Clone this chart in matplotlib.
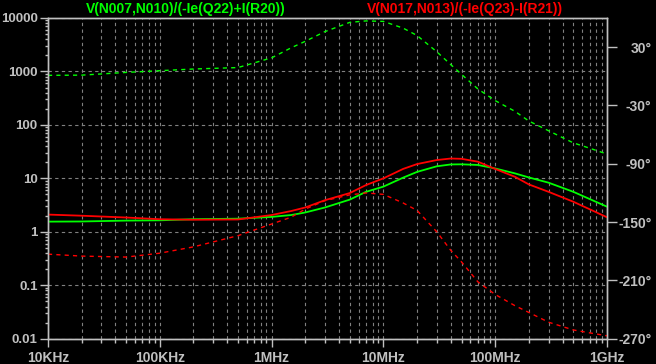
import matplotlib
matplotlib.use("Agg")
import matplotlib.pyplot as plt
from matplotlib.ticker import FixedLocator, NullFormatter

# frequency points (Hz) shared by all four traces
FREQ = [1e4, 2e4, 5e4, 1e5, 2e5, 5e5, 1e6, 1.5e6, 2e6, 3e6, 5e6, 7e6, 1e7,
        1.5e7, 2e7, 3e7, 4e7, 5e7, 7e7, 1e8, 1.5e8, 2e8, 3e8, 5e8, 7e8, 1e9]

# V(N007,N010)/(-Ie(Q22)+I(R20)) : magnitude and phase (deg)
MAG_Q22 = [1.55, 1.56, 1.62, 1.64, 1.72, 1.76, 1.9, 2.06, 2.3, 2.85, 4.0,
           5.6, 7.0, 10.3, 13.2, 16.8, 18.2, 18.3, 17.8, 15.3, 12.4, 10.4,
           8.3, 5.6, 4.1, 2.95]
PHASE_Q22 = [1.0, 1.2, 4.0, 5.8, 7.5, 9.0, 19.0, 29.4, 36.0, 46.0, 55.5,
             57.0, 56.5, 49.6, 42.0, 25.3, 12.1, 2.0, -13.0, -25.0, -36.0,
             -46.0, -56.0, -68.5, -74.0, -80.0]

# V(N017,N013)/(-Ie(Q23)-I(R21)) : magnitude and phase (deg)
MAG_Q23 = [2.1, 2.0, 1.85, 1.72, 1.68, 1.70, 2.06, 2.45, 2.85, 3.9, 5.3,
           7.5, 10.0, 15.0, 18.5, 22.0, 23.5, 23.2, 20.5, 15.0, 10.7, 7.7,
           5.6, 3.65, 2.64, 1.87]
PHASE_Q23 = [-183.0, -185.0, -186.0, -182.0, -175.5, -164.0, -152.0,
             -144.9, -136.6, -128.0, -122.0, -120.0, -121.5, -130.3, -138.0,
             -160.0, -179.0, -191.0, -211.5, -224.5, -236.0, -243.0, -253.0,
             -261.0, -264.0, -267.0]

X_TICKS = [1e4, 1e5, 1e6, 1e7, 1e8, 1e9]
X_LABELS = ["10KHz", "100KHz", "1MHz", "10MHz", "100MHz", "1GHz"]
Y_TICKS = [0.01, 0.1, 1, 10, 100, 1000, 10000]
Y_LABELS = ["0.01", "0.1", "1", "10", "100", "1000", "10000"]
P_TICKS = [30, -30, -90, -150, -210, -270]
P_LABELS = ["30°", "-30°", "-90°", "-150°", "-210°", "-270°"]

GREEN = "#00ff00"
RED = "#ff0000"
AXIS = "#c0c0c0"
GRID = "#808080"

plt.rcParams.update({"font.family": ["Liberation Sans", "DejaVu Sans"],
                     "font.weight": "bold"})

fig = plt.figure(figsize=(6.56, 3.64), dpi=100, facecolor="black")
ax = fig.add_axes([48 / 656, 25.3 / 364, 559 / 656, 320.7 / 364])
ax.set_facecolor("black")
ax.set_xscale("log")
ax.set_yscale("log")
ax.set_xlim(1e4, 1e9)
ax.set_ylim(0.01, 10000)

# grid: every minor decade vertically, decades horizontally
minor_x = [m * 10 ** e for e in range(4, 9) for m in range(2, 10)]
minor_y = [m * 10.0 ** e for e in range(-2, 4) for m in range(2, 10)]
ax.xaxis.set_major_locator(FixedLocator(X_TICKS))
ax.xaxis.set_minor_locator(FixedLocator(minor_x))
ax.xaxis.set_minor_formatter(NullFormatter())
ax.set_xticklabels(X_LABELS)
ax.yaxis.set_major_locator(FixedLocator(Y_TICKS))
ax.yaxis.set_minor_locator(FixedLocator(minor_y))
ax.yaxis.set_minor_formatter(NullFormatter())
ax.set_yticklabels(Y_LABELS)
ax.grid(True, which="both", axis="x", color=GRID, ls=(0, (3, 3)), lw=0.8)
ax.grid(True, which="major", axis="y", color=GRID, ls=(0, (3, 3)), lw=0.8)

ax.tick_params(axis="both", which="major", colors=AXIS, labelsize=10,
               length=6, width=1, direction="out")
ax.tick_params(axis="both", which="minor", colors=AXIS, length=3, width=1,
               direction="out")
ax.tick_params(axis="x", which="major", pad=3)
ax.tick_params(axis="y", which="major", pad=1.5, labelsize=9.5)
ax.tick_params(axis="y", which="minor", length=2)
for sp in ax.spines.values():
    sp.set_color(AXIS)
    sp.set_linewidth(1)

ax.plot(FREQ, MAG_Q22, color=GREEN, lw=1.3, zorder=3)
ax.plot(FREQ, MAG_Q23, color=RED, lw=1.3, zorder=3)

ax2 = ax.twinx()
ax2.set_ylim(-270, 60)
ax2.yaxis.set_major_locator(FixedLocator(P_TICKS))
ax2.set_yticklabels(P_LABELS)
ax2.tick_params(axis="y", colors=AXIS, labelsize=10, length=7, width=1,
                pad=25)
for lab in ax2.get_yticklabels():
    lab.set_horizontalalignment("right")
for sp in ax2.spines.values():
    sp.set_color(AXIS)
    sp.set_linewidth(1)

ax2.plot(FREQ, PHASE_Q22, color=GREEN, lw=1.0, ls=(0, (3, 3)))
ax2.plot(FREQ, PHASE_Q23, color=RED, lw=1.0, ls=(0, (3, 3)))

fig.text(186 / 656, 1 - 9 / 364, "V(N007,N010)/(-Ie(Q22)+I(R20))",
         color=GREEN, fontsize=10, fontweight="bold", ha="center", va="center")
fig.text(465 / 656, 1 - 9 / 364, "V(N017,N013)/(-Ie(Q23)-I(R21))",
         color=RED, fontsize=10, fontweight="bold", ha="center", va="center")

fig.savefig("out.png", dpi=100, facecolor="black")
